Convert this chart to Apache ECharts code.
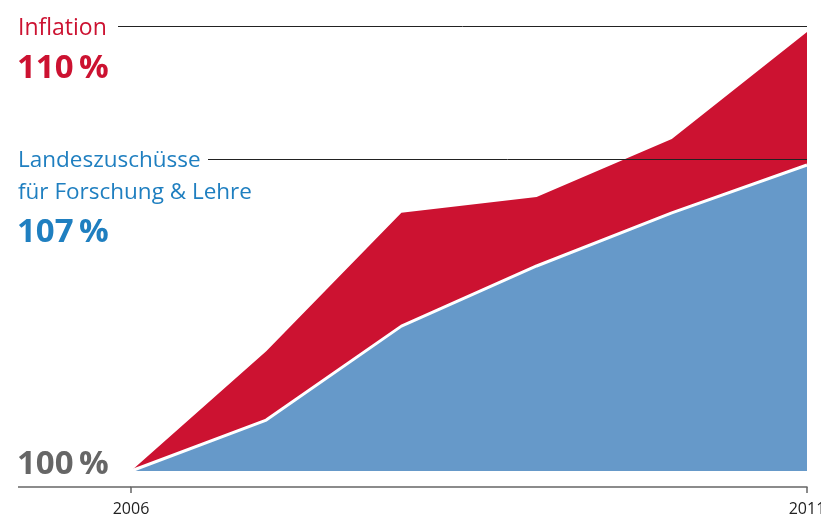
<!DOCTYPE html>
<html><head><meta charset="utf-8">
<script src="https://cdn.jsdelivr.net/npm/echarts@6/dist/echarts.min.js"></script>
<style>html,body{margin:0;padding:0;background:#fff}#c{width:821px;height:518px}</style>
</head><body><div id="c"></div>
<script>
var years = ['2006','2007','2008','2009','2010','2011'];
var inflation = [100, 102.73, 105.88, 106.24, 107.56, 110.0];
var zuschuesse = [100, 101.16, 103.30, 104.67, 105.88, 106.97];
var labelInflation = 'Inflation';
var valueInflation = '110\u2009%';
var labelZuschuss1 = 'Landeszuschüsse';
var labelZuschuss2 = 'für Forschung & Lehre';
var valueZuschuss = '107\u2009%';
var valueBase = '100\u2009%';

var RED = '#cc1231', BLUE = '#6699c9', TBLUE = '#1f7fc0', GRAY = '#666666';
var FONT = '"Open Sans", "Noto Sans", sans-serif';
var chart = echarts.init(document.getElementById('c'));
var lastIdx = years.length - 1;
chart.setOption({
  animation: false,
  grid: {left: 131, right: 14, top: 32, bottom: 47, outerBoundsMode: 'none', containLabel: false},
  xAxis: {
    type: 'category', data: years, boundaryGap: false, offset: 16,
    axisLine: {show: true, lineStyle: {color: GRAY, width: 1.5}},
    axisTick: {show: true, length: 6, lineStyle: {color: GRAY, width: 1.5},
      interval: function (i) { return i === 0 || i === lastIdx; }},
    axisLabel: {color: '#222', fontSize: 16, fontFamily: FONT, margin: 14, hideOverlap: false,
      interval: function (i) { return i === 0 || i === lastIdx; }},
    splitLine: {show: false}
  },
  yAxis: {type: 'value', min: 100, max: 110, show: false},
  series: [
    {type: 'line', data: inflation, symbol: 'none', lineStyle: {width: 0},
      areaStyle: {color: RED, opacity: 1}, z: 2},
    {type: 'line', data: zuschuesse, symbol: 'none', lineStyle: {width: 3, color: '#fff'},
      areaStyle: {color: BLUE, opacity: 1}, z: 3}
  ],
  graphic: [
    {type: 'line', shape: {x1: 18, y1: 487, x2: 131, y2: 487}, style: {stroke: GRAY, lineWidth: 1.5}, z: 10},
    {type: 'line', shape: {x1: 118, y1: 26.5, x2: 807, y2: 26.5}, style: {stroke: '#222', lineWidth: 1}, z: 10},
    {type: 'line', shape: {x1: 208, y1: 159.5, x2: 807, y2: 159.5}, style: {stroke: '#222', lineWidth: 1}, z: 10},
    {type: 'text', left: 18, top: 17, style: {text: labelInflation, fill: RED, font: '23px ' + FONT}, z: 10},
    {type: 'text', left: 17, top: 52, style: {text: valueInflation, fill: RED, font: 'bold 33px ' + FONT}, z: 10},
    {type: 'text', left: 18, top: 149, style: {text: labelZuschuss1, fill: TBLUE, font: '22.5px ' + FONT}, z: 10},
    {type: 'text', left: 18, top: 181, style: {text: labelZuschuss2, fill: TBLUE, font: '22.5px ' + FONT}, z: 10},
    {type: 'text', left: 17, top: 216, style: {text: valueZuschuss, fill: TBLUE, font: 'bold 33px ' + FONT}, z: 10},
    {type: 'text', left: 17, top: 448, style: {text: valueBase, fill: GRAY, font: 'bold 33px ' + FONT}, z: 10}
  ]
});
</script></body></html>
